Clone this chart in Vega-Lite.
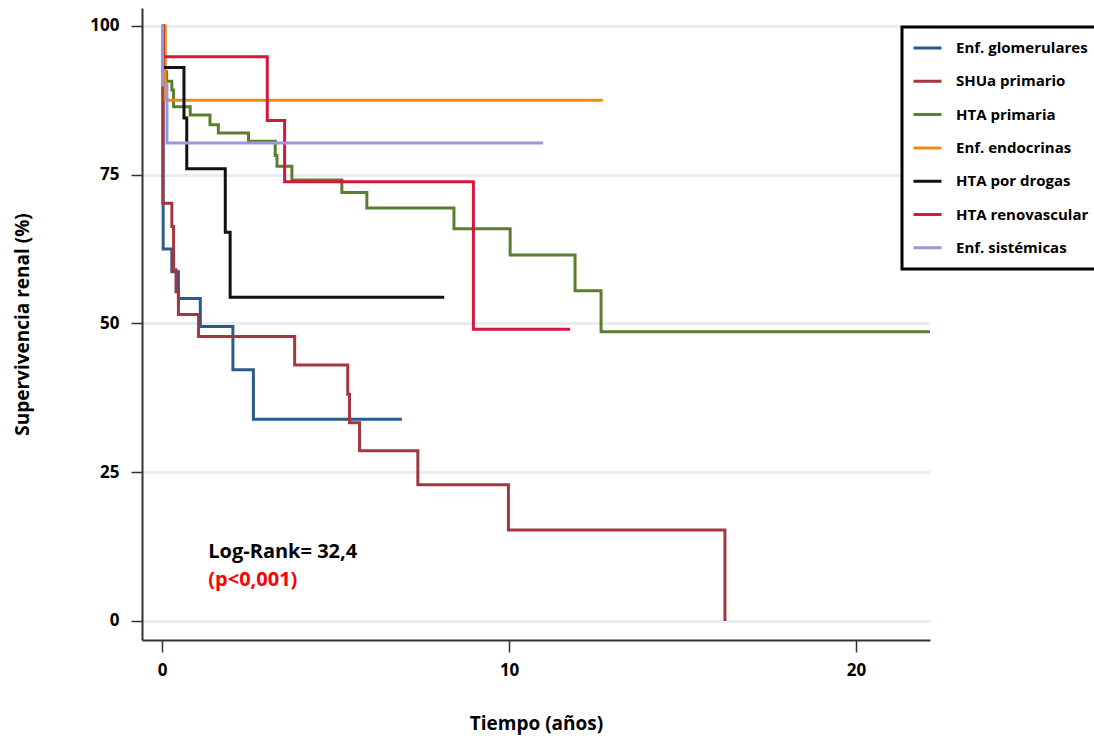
{
  "$schema": "https://vega.github.io/schema/vega-lite/v6.json",
  "width": 788,
  "height": 632,
  "autosize": {"type": "none"},
  "padding": {"left": 142, "top": 8, "right": 164, "bottom": 102},
  "background": "white",
  "config": {
    "view": {"stroke": null},
    "font": "Open Sans",
    "axis": {
      "domainColor": "#333333",
      "domainWidth": 2,
      "tickColor": "#333333",
      "tickWidth": 1.5,
      "tickSize": 11,
      "labelFont": "Open Sans",
      "labelFontWeight": "bold",
      "labelFontSize": 17,
      "labelColor": "#000000",
      "titleFont": "Open Sans",
      "titleFontWeight": "bold",
      "titleFontSize": 19,
      "titleColor": "#000000"
    },
    "legend": {
      "strokeColor": "#000000",
      "strokeWidth": 3,
      "fillColor": "white",
      "padding": 10,
      "symbolType": "stroke",
      "symbolSize": 784,
      "symbolStrokeWidth": 3,
      "clipHeight": 22,
      "rowPadding": 11.3,
      "labelOffset": 13,
      "labelFont": "Open Sans",
      "labelFontWeight": "bold",
      "labelFontSize": 15,
      "labelColor": "#000000",
      "labelLimit": 300
    }
  },
  "layer": [
    {
      "data": {
        "values": [
          {"grupo": "Enf. glomerulares", "t": 0, "s": 100},
          {"grupo": "Enf. glomerulares", "t": 0.03, "s": 62.5},
          {"grupo": "Enf. glomerulares", "t": 0.28, "s": 58.7},
          {"grupo": "Enf. glomerulares", "t": 0.47, "s": 54.2},
          {"grupo": "Enf. glomerulares", "t": 1.1, "s": 49.5},
          {"grupo": "Enf. glomerulares", "t": 2.04, "s": 42.2},
          {"grupo": "Enf. glomerulares", "t": 2.63, "s": 33.9},
          {"grupo": "Enf. glomerulares", "t": 6.91, "s": 33.9},
          {"grupo": "SHUa primario", "t": 0, "s": 100},
          {"grupo": "SHUa primario", "t": 0.02, "s": 70.2},
          {"grupo": "SHUa primario", "t": 0.28, "s": 66.3},
          {"grupo": "SHUa primario", "t": 0.33, "s": 59.0},
          {"grupo": "SHUa primario", "t": 0.4, "s": 55.3},
          {"grupo": "SHUa primario", "t": 0.47, "s": 51.5},
          {"grupo": "SHUa primario", "t": 1.05, "s": 47.8},
          {"grupo": "SHUa primario", "t": 3.82, "s": 43.0},
          {"grupo": "SHUa primario", "t": 5.35, "s": 38.1},
          {"grupo": "SHUa primario", "t": 5.4, "s": 33.3},
          {"grupo": "SHUa primario", "t": 5.69, "s": 28.6},
          {"grupo": "SHUa primario", "t": 7.37, "s": 22.9},
          {"grupo": "SHUa primario", "t": 9.98, "s": 15.3},
          {"grupo": "SHUa primario", "t": 16.22, "s": 0},
          {"grupo": "HTA primaria", "t": 0, "s": 100},
          {"grupo": "HTA primaria", "t": 0.03, "s": 95.2},
          {"grupo": "HTA primaria", "t": 0.05, "s": 92.3},
          {"grupo": "HTA primaria", "t": 0.13, "s": 90.7},
          {"grupo": "HTA primaria", "t": 0.28, "s": 89.2},
          {"grupo": "HTA primaria", "t": 0.33, "s": 86.4},
          {"grupo": "HTA primaria", "t": 0.81, "s": 85.0},
          {"grupo": "HTA primaria", "t": 1.38, "s": 83.4},
          {"grupo": "HTA primaria", "t": 1.62, "s": 82.0},
          {"grupo": "HTA primaria", "t": 2.49, "s": 80.6},
          {"grupo": "HTA primaria", "t": 3.26, "s": 78.2},
          {"grupo": "HTA primaria", "t": 3.31, "s": 76.4},
          {"grupo": "HTA primaria", "t": 3.74, "s": 74.1},
          {"grupo": "HTA primaria", "t": 5.18, "s": 72.0},
          {"grupo": "HTA primaria", "t": 5.9, "s": 69.4},
          {"grupo": "HTA primaria", "t": 8.41, "s": 65.9},
          {"grupo": "HTA primaria", "t": 10.03, "s": 61.5},
          {"grupo": "HTA primaria", "t": 11.9, "s": 55.5},
          {"grupo": "HTA primaria", "t": 12.65, "s": 48.6},
          {"grupo": "HTA primaria", "t": 22.13, "s": 48.6},
          {"grupo": "Enf. endocrinas", "t": 0, "s": 100},
          {"grupo": "Enf. endocrinas", "t": 0.09, "s": 87.5},
          {"grupo": "Enf. endocrinas", "t": 12.7, "s": 87.5},
          {"grupo": "HTA por drogas", "t": 0, "s": 100},
          {"grupo": "HTA por drogas", "t": 0.02, "s": 93.0},
          {"grupo": "HTA por drogas", "t": 0.63, "s": 84.5},
          {"grupo": "HTA por drogas", "t": 0.71, "s": 76.0},
          {"grupo": "HTA por drogas", "t": 1.82, "s": 65.3},
          {"grupo": "HTA por drogas", "t": 1.96, "s": 54.4},
          {"grupo": "HTA por drogas", "t": 8.13, "s": 54.4},
          {"grupo": "HTA renovascular", "t": 0, "s": 100},
          {"grupo": "HTA renovascular", "t": 0.02, "s": 94.8},
          {"grupo": "HTA renovascular", "t": 3.03, "s": 84.1},
          {"grupo": "HTA renovascular", "t": 3.53, "s": 73.8},
          {"grupo": "HTA renovascular", "t": 8.97, "s": 49.0},
          {"grupo": "HTA renovascular", "t": 11.76, "s": 49.0},
          {"grupo": "Enf. sistémicas", "t": 0, "s": 100},
          {"grupo": "Enf. sistémicas", "t": 0.01, "s": 90.1},
          {"grupo": "Enf. sistémicas", "t": 0.14, "s": 80.3},
          {"grupo": "Enf. sistémicas", "t": 10.98, "s": 80.3}
        ]
      },
      "mark": {"type": "line", "interpolate": "step-after", "strokeWidth": 3, "strokeCap": "butt", "strokeJoin": "miter"},
      "encoding": {
        "x": {
          "field": "t", "type": "quantitative",
          "scale": {"domain": [-0.58, 22.13], "nice": false, "zero": false},
          "axis": {"values": [0, 10, 20], "title": "Tiempo (años)", "grid": false, "labelPadding": 10, "titlePadding": 36, "tickSize": 12}
        },
        "y": {
          "field": "s", "type": "quantitative",
          "scale": {"domain": [-3.2, 103], "nice": false, "zero": false},
          "axis": {"values": [0, 25, 50, 75, 100], "title": "Supervivencia renal (%)", "grid": true, "gridColor": "#e6eef1", "gridWidth": 3, "labelPadding": 12, "titlePadding": 57}
        },
        "color": {
          "field": "grupo", "type": "nominal",
          "scale": {
            "domain": ["Enf. glomerulares", "SHUa primario", "HTA primaria", "Enf. endocrinas", "HTA por drogas", "HTA renovascular", "Enf. sistémicas"],
            "range": ["#2b5a8b", "#a3373f", "#5a7e2e", "#ef8a17", "#111111", "#d5173f", "#9c95dc"]
          },
          "legend": {
            "title": null,
            "orient": "none",
            "legendX": 760,
            "legendY": 19
          }
        }
      }
    },
    {
      "data": {"values": [{"t": 1.33, "s": 10.6, "label": "Log-Rank= 32,4"}]},
      "mark": {"type": "text", "align": "left", "baseline": "alphabetic", "font": "Open Sans", "fontWeight": "bold", "fontSize": 20, "color": "#000000"},
      "encoding": {
        "x": {"field": "t", "type": "quantitative"},
        "y": {"field": "s", "type": "quantitative"},
        "text": {"field": "label"}
      }
    },
    {
      "data": {"values": [{"t": 1.33, "s": 5.9, "label": "(p<0,001)"}]},
      "mark": {"type": "text", "align": "left", "baseline": "alphabetic", "font": "Open Sans", "fontWeight": "bold", "fontSize": 20, "color": "#ff0000"},
      "encoding": {
        "x": {"field": "t", "type": "quantitative"},
        "y": {"field": "s", "type": "quantitative"},
        "text": {"field": "label"}
      }
    }
  ]
}
